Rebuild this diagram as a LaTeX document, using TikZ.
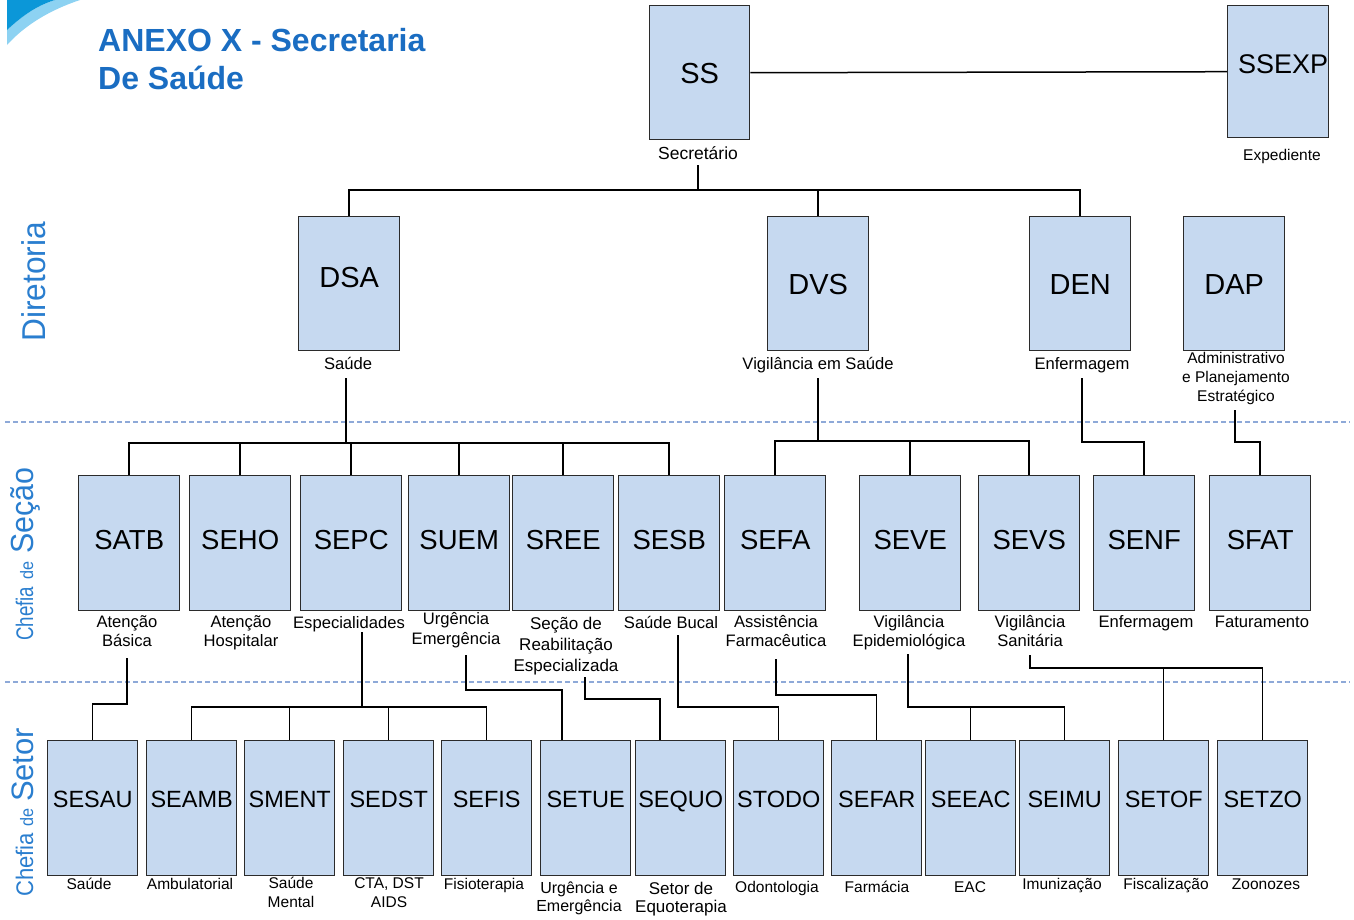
\documentclass[tikz,border=0pt]{standalone}
\usepackage{fontspec}
\setmainfont{Liberation Sans}
\definecolor{boxfill}{HTML}{C6D9F0}
\definecolor{boxline}{HTML}{2B2B2B}
\definecolor{ttl}{HTML}{1A6DC2}
\definecolor{side}{HTML}{2A7ECF}
\definecolor{dashc}{HTML}{8EA9D8}
\definecolor{swd}{HTML}{0B97D8}
\definecolor{swl}{HTML}{8DD2F2}
\tikzset{
  bx/.style={draw=boxline, line width=1.4pt, fill=boxfill, inner sep=0pt, anchor=north west},
  dirbox/.style={bx, minimum width=101pt, minimum height=134pt, font=\fontsize{29}{29}\selectfont, text height=20.8pt, text depth=0pt},
  secbox/.style={bx, minimum width=101pt, minimum height=135pt, font=\fontsize{27.5}{27.5}\selectfont, text height=19.7pt, text depth=8pt},
  setbox/.style={bx, minimum width=90pt, minimum height=135pt, font=\fontsize{23.5}{23.5}\selectfont, text height=16.8pt, text depth=18pt},
  lab/.style={anchor=base, inner sep=0pt, align=center, font=\fontsize{16.6}{19.5}\selectfont},
  slab/.style={lab, font=\fontsize{15.5}{19}\selectfont},
  conn/.style={line width=1.5pt, black},
  dashline/.style={dashc, line width=1.1pt, dash pattern=on 5pt off 3pt},
  sidelab/.style={rotate=90, anchor=base west, inner sep=0pt, text=side},
}
\begin{document}
\begin{tikzpicture}[x=1pt, y=-1pt]
\useasboundingbox (0,0) rectangle (1354,919);
% swoosh
\fill[swl] (7,30) .. controls (20,18) and (35,6) .. (55,0) -- (80,0) .. controls (50,10) and (25,25) .. (7,45) -- cycle;
\fill[swd] (7,0) -- (7,30) .. controls (20,18) and (35,6) .. (55,0) -- cycle;
% title (base anchor = baseline of last line)
\node[anchor=base west, inner sep=0pt, align=left, text=ttl, font=\bfseries\fontsize{32}{38}\selectfont] (title) at (98,89.5) {ANEXO X - Secretaria\\De Saúde};
% side labels
\node[sidelab, font=\fontsize{33}{33}\selectfont] (sdir) at (45,342) {\scalebox{0.96}[1]{Diretoria}};
\node[sidelab] (ssec) at (33,641) {\scalebox{0.78}[1]{\fontsize{24}{24}\selectfont Chefia}\hspace{7pt}\scalebox{0.9}[1]{\fontsize{18}{18}\selectfont de}\hspace{8pt}\scalebox{0.95}[1]{\fontsize{32}{32}\selectfont Seção}};
\node[sidelab] (sset) at (33,897) {\scalebox{0.92}[1]{\fontsize{24}{24}\selectfont Chefia}\hspace{6pt}\scalebox{0.9}[1]{\fontsize{18}{18}\selectfont de}\hspace{7pt}{\fontsize{31}{31}\selectfont Setor}};
% dashed separators
\coordinate (d1a) at (5,422); \coordinate (d1b) at (1350,422);
\coordinate (d2a) at (5,682); \coordinate (d2b) at (1350,682);
\draw[dashline] (d1a) -- (d1b);
\draw[dashline] (d2a) -- (d2b);
% top
\node[dirbox, minimum width=100pt] (SS) at (649,5) {SS};
\node[dirbox, minimum height=132pt, font=\fontsize{27}{27}\selectfont, text height=19.3pt, text depth=16pt] (SSEXP) at (1227,5) {\hspace*{10pt}SSEXP};
\node[lab, font=\fontsize{17.5}{20}\selectfont] (SSl) at (698,159) {Secretário};
\node[slab] (SSEXPl) at (1282,160) {Expediente};
\draw[conn] (SS.east) -- (SSEXP.west);
% directors
\node[dirbox, text depth=14pt] (DSA) at (298,216) {DSA};
\node[dirbox] (DVS) at (767,216) {DVS};
\node[dirbox] (DEN) at (1029,216) {DEN};
\node[dirbox] (DAP) at (1183,216) {DAP};
\node[lab] (DSAl) at (348,369) {Saúde};
\node[lab] (DVSl) at (818,369) {Vigilância em Saúde};
\node[lab] (DENl) at (1082,369) {Enfermagem};
\node[slab] (DAPl) at (1236,401) {Administrativo\\e Planejamento\\Estratégico};
\coordinate (busSS) at (698,190);
\draw[conn] ([yshift=-6pt]SSl.base) -- (busSS);
\draw[conn] (DSA.north) |- (busSS) -| (DEN.north);
\draw[conn] (DVS.north) -- (DVS.north |- busSS);
% sections
\node[secbox] (SATB) at (78,475) {SATB};
\node[secbox] (SEHO) at (189,475) {SEHO};
\node[secbox] (SEPC) at (300,475) {SEPC};
\node[secbox] (SUEM) at (408,475) {SUEM};
\node[secbox] (SREE) at (512,475) {SREE};
\node[secbox] (SESB) at (618,475) {SESB};
\node[secbox] (SEFA) at (724,475) {SEFA};
\node[secbox] (SEVE) at (859,475) {SEVE};
\node[secbox] (SEVS) at (978,475) {SEVS};
\node[secbox] (SENF) at (1093,475) {SENF};
\node[secbox] (SFAT) at (1209,475) {SFAT};
\node[lab] (SATBl) at (127,646.5) {Atenção\\Básica};
\node[lab] (SEHOl) at (241,646.5) {Atenção\\Hospitalar};
\node[lab] (SEPCl) at (349,628) {Especialidades};
\node[lab, font=\fontsize{16.6}{20}\selectfont] (SUEMl) at (456,644) {Urgência\\Emergência};
\node[lab, font=\fontsize{17}{21}\selectfont] (SREEl) at (566,671) {Seção de\\Reabilitação\\Especializada};
\node[lab] (SESBl) at (671,628) {Saúde Bucal};
\node[lab] (SEFAl) at (776,646.5) {Assistência\\Farmacêutica};
\node[lab] (SEVEl) at (909,646.5) {Vigilância\\Epidemiológica};
\node[lab] (SEVSl) at (1030,646.5) {Vigilância\\Sanitária};
\node[lab] (SENFl) at (1146,627) {Enfermagem};
\node[lab] (SFATl) at (1262,627) {Faturamento};
% director -> section connectors
\coordinate (tDSA) at (346,378); \coordinate (bDSA) at (346,443);
\draw[conn] (tDSA) -- (bDSA);
\draw[conn] (SATB.north) |- (bDSA) -| (SESB.north);
\foreach \n in {SEHO,SEPC,SUEM,SREE} \draw[conn] (\n.north) -- (\n.north |- bDSA);
\coordinate (tDVS) at (818,378); \coordinate (bDVS) at (818,441);
\draw[conn] (tDVS) -- (bDVS);
\draw[conn] (SEFA.north) |- (bDVS) -| (SEVS.north);
\draw[conn] (SEVE.north) -- (SEVE.north |- bDVS);
\coordinate (tDEN) at (1082,378); \coordinate (bDEN) at (1082,442);
\draw[conn] (tDEN) -- (bDEN) -| (SENF.north);
\coordinate (tDAP) at (1235,410); \coordinate (bDAP) at (1235,442);
\draw[conn] (tDAP) -- (bDAP) -| (SFAT.north);
% sectors
\node[setbox] (SESAU) at (47,740) {SESAU};
\node[setbox] (SEAMB) at (146,740) {SEAMB};
\node[setbox] (SMENT) at (244,740) {SMENT};
\node[setbox] (SEDST) at (343,740) {SEDST};
\node[setbox] (SEFIS) at (441,740) {SEFIS};
\node[setbox] (SETUE) at (540,740) {SETUE};
\node[setbox] (SEQUO) at (635,740) {SEQUO};
\node[setbox] (STODO) at (733,740) {STODO};
\node[setbox] (SEFAR) at (831,740) {SEFAR};
\node[setbox] (SEEAC) at (925,740) {SEEAC};
\node[setbox] (SEIMU) at (1019,740) {SEIMU};
\node[setbox] (SETOF) at (1118,740) {SETOF};
\node[setbox] (SETZO) at (1217,740) {SETZO};
\node[slab] (SESAUl) at (89,889) {Saúde};
\node[slab] (SEAMBl) at (190,889) {Ambulatorial};
\node[slab] (SMENTl) at (291,907) {Saúde\\Mental};
\node[slab] (SEDSTl) at (389,907) {CTA, DST\\AIDS};
\node[slab] (SEFISl) at (484,889) {Fisioterapia};
\node[slab, font=\fontsize{16}{18}\selectfont] (SETUEl) at (579,911) {Urgência e\\Emergência};
\node[slab, font=\fontsize{17}{18}\selectfont] (SEQUOl) at (681,912) {Setor de\\Equoterapia};
\node[slab] (STODOl) at (777,892) {Odontologia};
\node[slab] (SEFARl) at (877,892) {Farmácia};
\node[slab] (SEEACl) at (970,892) {EAC};
\node[slab] (SEIMUl) at (1062,889) {Imunização};
\node[slab] (SETOFl) at (1166,889) {Fiscalização};
\node[slab] (SETZOl) at (1266,889) {Zoonozes};
% section -> sector connectors
\coordinate (tSATB) at (127,658); \coordinate (bSATB) at (127,704);
\draw[conn] (tSATB) -- (bSATB) -| (SESAU.north);
\coordinate (tSEPC) at (362,632); \coordinate (bSEPC) at (362,707);
\draw[conn] (tSEPC) -- (bSEPC);
\draw[conn] (SEAMB.north) |- (bSEPC) -| (SEFIS.north);
\draw[conn] (SMENT.north) -- (SMENT.north |- bSEPC);
\draw[conn] (SEDST.north) -- (SEDST.north |- bSEPC);
\coordinate (tSUEM) at (466,655); \coordinate (bSUEM) at (466,690);
\draw[conn] (tSUEM) -- (bSUEM) -| ([xshift=22pt]SETUE.north west);
\coordinate (tSREE) at (585,677); \coordinate (bSREE) at (585,699);
\draw[conn] (tSREE) -- (bSREE) -| ([xshift=25pt]SEQUO.north west);
\coordinate (tSESB) at (678,635); \coordinate (bSESB) at (678,707);
\draw[conn] (tSESB) -- (bSESB) -| (STODO.north);
\coordinate (tSEFA) at (776,659); \coordinate (bSEFA) at (776,695);
\draw[conn] (tSEFA) -- (bSEFA) -| (SEFAR.north);
\coordinate (tSEVE) at (908,654); \coordinate (bSEVE) at (908,707);
\draw[conn] (tSEVE) -- (bSEVE) -| (SEIMU.north);
\draw[conn] (SEEAC.north) -- (SEEAC.north |- bSEVE);
\coordinate (tSEVS) at (1030,655); \coordinate (bSEVS) at (1030,668);
\draw[conn] (tSEVS) -- (bSEVS) -| (SETZO.north);
\draw[conn] (SETOF.north) -- (SETOF.north |- bSEVS);
\end{tikzpicture}
\end{document}
